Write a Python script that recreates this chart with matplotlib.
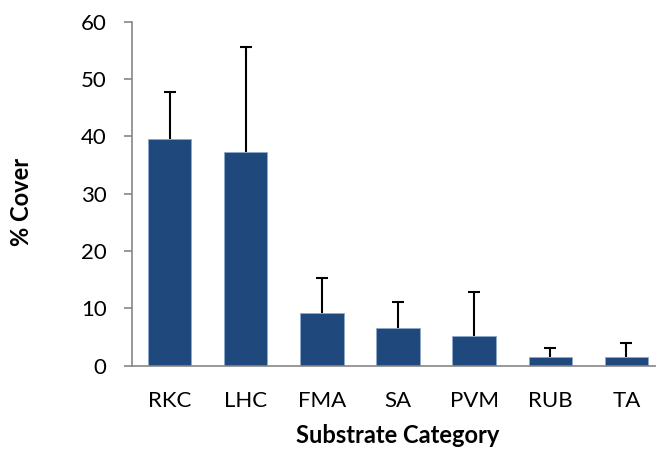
import matplotlib.pyplot as plt

categories = ['RKC', 'LHC', 'FMA', 'SA', 'PVM', 'RUB', 'TA']
cover = [39.6, 37.2, 9.1, 6.5, 5.1, 1.5, 1.5]
cover_err = [8.1, 18.4, 6.2, 4.6, 7.8, 1.5, 2.5]

plt.rcParams['font.family'] = ['Lato', 'DejaVu Sans']

fig = plt.figure(figsize=(6.56, 4.53), dpi=100)
ax = fig.add_axes([0.2005, 0.193, 0.8125, 0.759])

x = list(range(len(categories)))
ax.bar(x, cover, width=0.57, color='#1F497D', edgecolor='#8FA9CC', linewidth=0.6, zorder=2)

# upper error only, no cap at the bar top
eb = ax.errorbar(x, cover, yerr=[[0] * len(cover), cover_err], fmt='none',
                 ecolor='black', elinewidth=1.5, capsize=4.6, capthick=1.5, zorder=1)
eb[1][0].set_visible(False)

ax.set_xlim(-0.5, len(categories) - 0.5)
ax.set_ylim(0, 60)
ax.set_yticks(range(0, 61, 10))
ax.set_xticks(x)
ax.set_xticklabels(categories)

for s in ['top', 'right']:
    ax.spines[s].set_visible(False)
for s in ['left', 'bottom']:
    ax.spines[s].set_color('#868686')
    ax.spines[s].set_linewidth(1.2)

ax.tick_params(axis='y', direction='out', length=6, width=1.2, color='#868686',
               pad=12, labelsize=16)
ax.tick_params(axis='x', length=0, pad=18, labelsize=16)

ax.set_xlabel('Substrate Category', fontsize=17, fontweight='bold', labelpad=10)
ax.set_ylabel('% Cover', fontsize=17, fontweight='bold')
ax.yaxis.set_label_coords(-0.185, 0.475)

fig.savefig('out.png', dpi=100)
